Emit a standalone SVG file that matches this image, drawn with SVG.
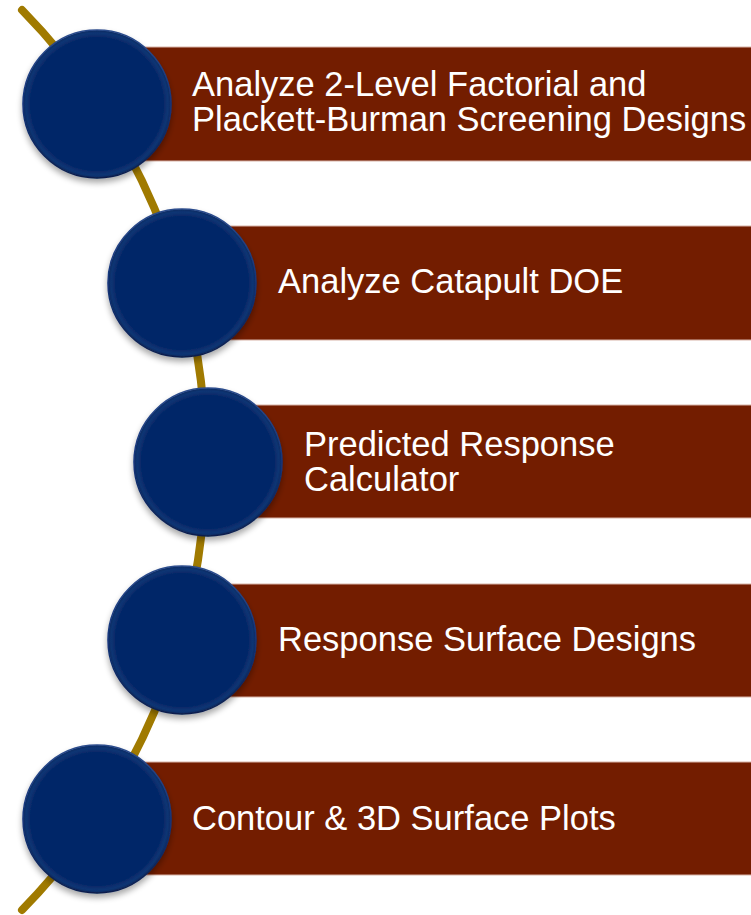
<svg xmlns="http://www.w3.org/2000/svg" width="751" height="915" viewBox="0 0 751 915">
  <defs>
    <radialGradient id="bevel" cx="50%" cy="50%" r="50%">
      <stop offset="0" stop-color="#042567"/>
      <stop offset="0.9" stop-color="#052868"/>
      <stop offset="0.96" stop-color="#0f3574"/>
      <stop offset="1" stop-color="#0a2a60"/>
    </radialGradient>
    <linearGradient id="rim" x1="0" y1="0" x2="0" y2="1">
      <stop offset="0" stop-color="#2c4c8c"/>
      <stop offset="0.5" stop-color="#14347a"/>
      <stop offset="1" stop-color="#081e4c"/>
    </linearGradient>
    <filter id="shadow" x="-20%" y="-20%" width="140%" height="150%">
      <feGaussianBlur in="SourceAlpha" stdDeviation="3"/>
      <feOffset dx="0" dy="4" result="b"/>
      <feComponentTransfer><feFuncA type="linear" slope="0.35"/></feComponentTransfer>
      <feMerge><feMergeNode/><feMergeNode in="SourceGraphic"/></feMerge>
    </filter>
    <style>
      .band { fill: #731d00; stroke: #d8b4a8; stroke-width: 1; }
      .disc { fill: url(#bevel); stroke: url(#rim); stroke-width: 1.5; filter: url(#shadow); }
      .label { fill: #ffffff; font-family: "Liberation Sans", Arial, sans-serif; font-size: 34.5px; }
      .spine { fill: none; stroke: #a07a00; stroke-width: 8; stroke-linecap: round; }
    </style>
  </defs>

  <!-- curved spine joining the discs -->
  <g id="connectors">
    <path class="spine" d="M 22 10 A 643 643 0 0 1 22 910"/>
  </g>

  <g id="item1">
    <rect class="band" x="97" y="47" width="660" height="114"/>
    <circle class="disc" cx="97" cy="104" r="74"/>
    <text class="label" x="192" y="96">Analyze 2-Level Factorial and</text>
    <text class="label" x="192" y="131">Plackett-Burman Screening Designs</text>
  </g>

  <g id="item2">
    <rect class="band" x="182" y="226" width="575" height="114"/>
    <circle class="disc" cx="182" cy="283" r="74"/>
    <text class="label" x="278" y="293">Analyze Catapult DOE</text>
  </g>

  <g id="item3">
    <rect class="band" x="208" y="405" width="549" height="113"/>
    <circle class="disc" cx="208" cy="462" r="74"/>
    <text class="label" x="304" y="456">Predicted Response</text>
    <text class="label" x="304" y="491">Calculator</text>
  </g>

  <g id="item4">
    <rect class="band" x="182" y="584" width="575" height="113"/>
    <circle class="disc" cx="182" cy="640" r="74"/>
    <text class="label" x="278" y="651">Response Surface Designs</text>
  </g>

  <g id="item5">
    <rect class="band" x="97" y="762" width="660" height="113"/>
    <circle class="disc" cx="97" cy="819" r="74"/>
    <text class="label" x="192" y="830">Contour &amp; 3D Surface Plots</text>
  </g>
</svg>
